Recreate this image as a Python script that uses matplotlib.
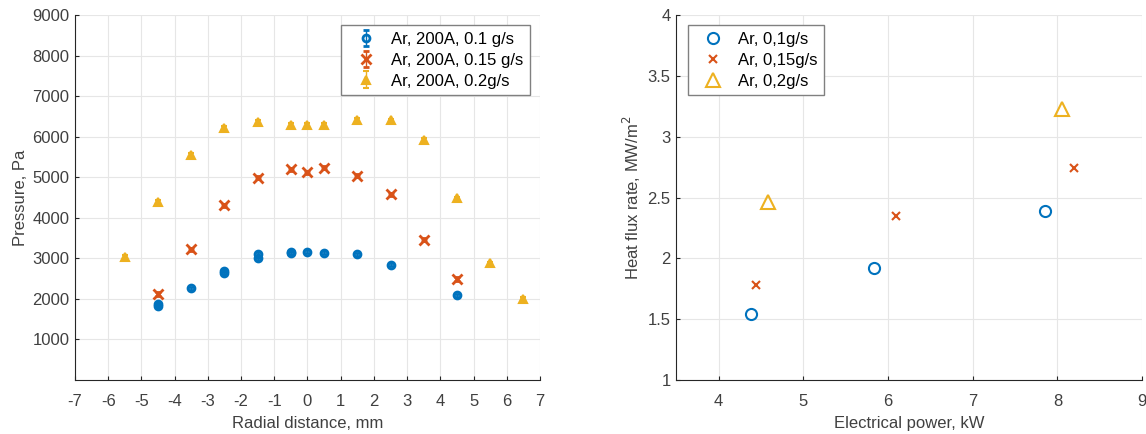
import numpy as np
import matplotlib.pyplot as plt

plt.rcParams['font.family'] = ['Liberation Sans', 'DejaVu Sans']
plt.rcParams['axes.unicode_minus'] = False

# left panel: pressure vs radial distance
r_01 = [-4.5, -4.5, -3.5, -2.5, -2.5, -1.5, -1.5, -0.5, -0.5, 0, 0.5, 1.5, 2.5, 4.5]
p_01 = [1830, 1870, 2260, 2700, 2640, 3110, 3000, 3146, 3130, 3162, 3138, 3097, 2842, 2087]
r_015 = [-4.5, -3.5, -2.5, -1.5, -0.5, 0, 0.5, 1.5, 2.5, 3.5, 4.5]
p_015 = [2120, 3220, 4304, 4985, 5199, 5117, 5240, 5035, 4575, 3458, 2489]
r_02 = [-5.5, -4.5, -3.5, -2.5, -1.5, -0.5, 0, 0.5, 1.5, 2.5, 3.5, 4.5, 5.5, 6.5]
p_02 = [3040, 4390, 5550, 6220, 6365, 6300, 6300, 6300, 6420, 6400, 5920, 4480, 2875, 2005]
p_err = 40

# right panel: heat flux vs electrical power
pw_01 = [4.38, 5.84, 7.85]
q_01 = [1.54, 1.92, 2.39]
pw_015 = [4.44, 6.09, 8.20]
q_015 = [1.78, 2.35, 2.745]
pw_02 = [4.59, 8.05]
q_02 = [2.46, 3.23]

c1, c2, c3 = '#0072BD', '#D95319', '#EDB120'
txt = '#404040'
fs = 12

fig = plt.figure(figsize=(11.46, 4.34), dpi=100)
ax1 = fig.add_axes([0.0654, 0.1244, 0.4058, 0.841])
ax2 = fig.add_axes([0.590, 0.1244, 0.4066, 0.841])

ax1.errorbar(r_01, p_01, yerr=p_err, fmt='o', color=c1, ms=5, mew=2, mfc='none',
             capsize=2, elinewidth=1, label='Ar, 200A, 0.1 g/s')
ax1.errorbar(r_015, p_015, yerr=p_err, fmt='x', color=c2, ms=7, mew=2,
             capsize=2, elinewidth=1, label='Ar, 200A, 0.15 g/s')
ax1.errorbar(r_02, p_02, yerr=p_err, fmt='^', color=c3, ms=6, mew=1.5, mfc=c3,
             capsize=2, elinewidth=1, label='Ar, 200A, 0.2g/s')
ax1.set_xlim(-7, 7)
ax1.set_ylim(0, 9000)
ax1.set_xticks(np.arange(-7, 8, 1))
ax1.set_yticks(np.arange(1000, 9001, 1000))
ax1.set_xlabel('Radial distance, mm', color=txt, fontsize=fs, labelpad=5)
ax1.set_ylabel('Pressure, Pa', color=txt, fontsize=fs, labelpad=3)
ax1.legend(loc='upper right', bbox_to_anchor=(0.978, 0.972), fontsize=fs,
           fancybox=False, edgecolor='#808080', framealpha=1,
           handlelength=2.2, handletextpad=0.4, borderpad=0.4,
           labelspacing=0.35, borderaxespad=0)

ax2.plot(pw_01, q_01, 'o', color=c1, ms=8, mew=1.5, mfc='none', ls='none', label='Ar, 0,1g/s')
ax2.plot(pw_015, q_015, 'x', color=c2, ms=6, mew=1.5, ls='none', label='Ar, 0,15g/s')
ax2.plot(pw_02, q_02, '^', color=c3, ms=10, mew=1.5, mfc='none', ls='none', label='Ar, 0,2g/s')
ax2.set_xlim(3.5, 9)
ax2.set_ylim(1, 4)
ax2.set_xticks(np.arange(4, 10, 1))
ax2.set_yticks(np.arange(1, 4.01, 0.5))
ax2.set_yticklabels(['1', '1.5', '2', '2.5', '3', '3.5', '4'])
ax2.set_xlabel('Electrical power, kW', color=txt, fontsize=fs, labelpad=5)
ax2.set_ylabel('Heat flux rate, MW/m$^2$', color=txt, fontsize=fs, labelpad=3)
ax2.legend(loc='upper left', bbox_to_anchor=(0.026, 0.972), fontsize=fs,
           fancybox=False, edgecolor='#808080', framealpha=1,
           handlelength=2.2, handletextpad=0.4, borderpad=0.4,
           labelspacing=0.35, borderaxespad=0)

for ax in (ax1, ax2):
    ax.grid(True, color='#e6e6e6', lw=0.8)
    ax.set_axisbelow(True)
    for s in ('top', 'right'):
        ax.spines[s].set_visible(False)
    for s in ('left', 'bottom'):
        ax.spines[s].set_color('#262626')
        ax.spines[s].set_linewidth(0.8)
    ax.tick_params(direction='in', length=3, colors='#262626', labelcolor=txt,
                   labelsize=fs)
    ax.tick_params(axis='x', pad=10)
    ax.tick_params(axis='y', pad=4)

fig.savefig('out.png', dpi=100)
